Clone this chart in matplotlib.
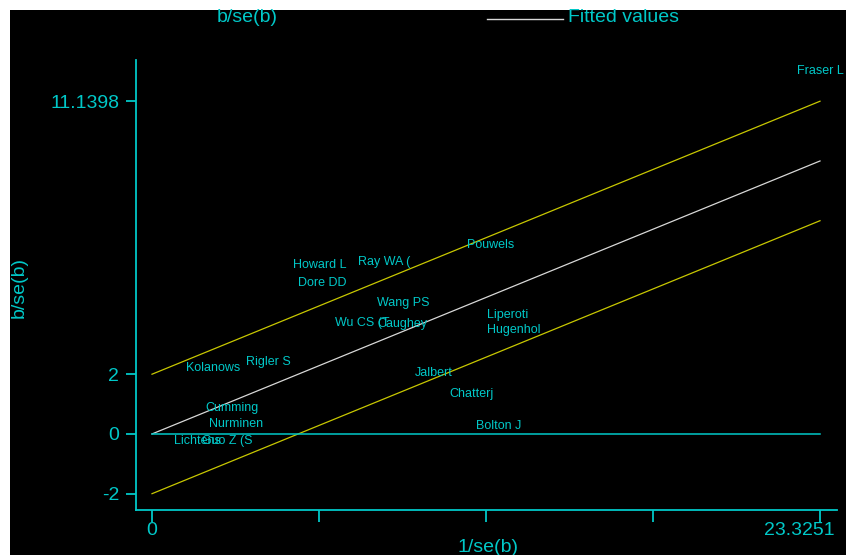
import matplotlib
matplotlib.use("Agg")
import matplotlib.pyplot as plt
import matplotlib.transforms as mtransforms
from matplotlib.patches import Rectangle

# Study labels (truncated to 8 characters) and Galbraith coordinates
studies = ["Fraser L", "Pouwels", "Howard L", "Ray WA (", "Dore DD", "Wang PS",
           "Wu CS (T", "Caughey", "Liperoti", "Hugenhol", "Kolanows", "Rigler S",
           "Jalbert", "Chatterj", "Cumming", "Nurminen", "Bolton J", "Lichtens",
           "Guo Z (S"]
inv_se = [23.3251, 11.82, 5.87, 8.10, 5.94, 8.76,
          7.33, 8.73, 12.41, 12.62, 2.13, 4.05,
          9.84, 11.17, 2.79, 2.93, 12.10, 1.57,
          2.62]
z_score = [11.79, 5.96, 5.29, 5.39, 4.69, 4.02,
           3.35, 3.32, 3.62, 3.12, 1.84, 2.04,
           1.68, 0.97, 0.50, -0.03, -0.10, -0.60,
           -0.60]

# Fitted line through the origin and the +/-2 band
slope = 0.391844
band = 2.0
x_max = 23.3251
y_ticks = [-2, 0, 2, 11.1398]
y_tick_labels = ["-2", "0", "2", "11.1398"]
x_ticks = [0, x_max / 4, x_max / 2, 3 * x_max / 4, x_max]
x_tick_labels = ["0", "", "", "", "23.3251"]

CYAN = "#00c8c8"
YELLOW = "#c8c800"
WHITE = "#d8d8d8"
FONT = "Liberation Sans"

W, H = 846, 555
fig = plt.figure(figsize=(W / 100, H / 100), dpi=100, facecolor="white")
fig.patches.append(Rectangle((10 / W, 0), (W - 10) / W, (H - 10) / H,
                             transform=fig.transFigure, facecolor="black",
                             edgecolor="none", zorder=-10))

ax = fig.add_axes([136 / W, 45 / H, 701 / W, 450 / H])
ax.set_facecolor("black")
ax.patch.set_alpha(0)

ax.set_xlim(-0.5587, 23.918)
ax.set_ylim(-2.546, 12.52)

xs = [0, x_max]
ax.plot(xs, [slope * v + band for v in xs], color=YELLOW, lw=0.9)
ax.plot(xs, [slope * v - band for v in xs], color=YELLOW, lw=0.9)
ax.plot(xs, [slope * v for v in xs], color=WHITE, lw=0.9)
ax.plot(xs, [0, 0], color=CYAN, lw=1.1)

for name, xv, yv in zip(studies, inv_se, z_score):
    ax.annotate(name, (xv, yv), xytext=(0, 11), textcoords="offset pixels",
                ha="center", va="center", color=CYAN, fontsize=9,
                family=FONT, annotation_clip=False)

for side in ("top", "right"):
    ax.spines[side].set_visible(False)
for side in ("left", "bottom"):
    ax.spines[side].set_color(CYAN)
    ax.spines[side].set_linewidth(1.3)

ax.set_yticks(y_ticks)
ax.set_yticklabels(y_tick_labels)
ax.set_xticks(x_ticks)
ax.set_xticklabels(x_tick_labels)
ax.tick_params(axis="y", direction="out", length=7.2, width=1.3, color=CYAN,
               labelcolor=CYAN, labelsize=14, pad=5)
ax.tick_params(axis="x", direction="out", length=8.6, width=1.3, color=CYAN,
               labelcolor=CYAN, labelsize=14, pad=0)
for lab in ax.get_xticklabels() + ax.get_yticklabels():
    lab.set_family(FONT)
last = ax.get_xticklabels()[-1]
last.set_transform(last.get_transform() +
                   mtransforms.ScaledTranslation(-21 / 100, 0, fig.dpi_scale_trans))

# Axis titles and legend drawn in figure pixel positions
def fig_text(px, py, s, **kw):
    fig.text(px / W, 1 - py / H, s, color=CYAN, fontsize=14, family=FONT, **kw)

fig_text(247.5, 18, "b/se(b)", ha="center", va="center")
fig_text(568, 17.5, "Fitted values", ha="left", va="center")
fig.add_artist(plt.Line2D([487 / W, 563 / W], [1 - 19 / H, 1 - 19 / H],
                          color=WHITE, lw=1.0, transform=fig.transFigure))
fig_text(19, 288, "b/se(b)", ha="center", va="center", rotation=90)
fig_text(488, 548, "1/se(b)", ha="center", va="center")

fig.savefig("out.png", dpi=100, facecolor=fig.get_facecolor())
